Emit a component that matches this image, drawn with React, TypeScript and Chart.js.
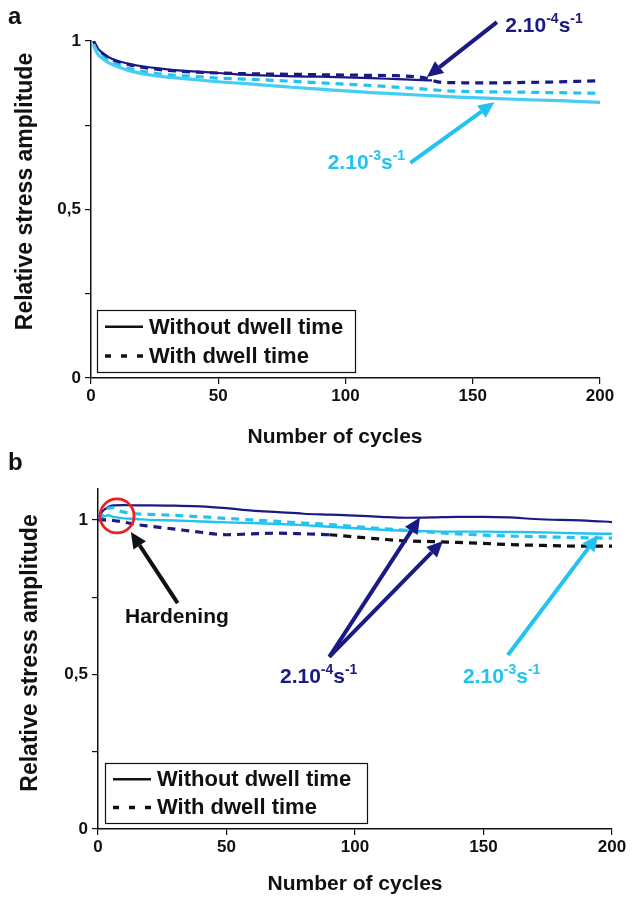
import React, { useEffect, useRef } from 'react';
import { Chart, registerables } from 'chart.js';

Chart.register(...registerables);

const FONT = '"Liberation Sans", Arial, Helvetica, sans-serif';
const NAVY = '#1a1a82';
const CYAN = '#22c3f1';
const CYAN_SOFT = '#45cdf4';
const BLACK = '#111111';
const RED = '#ec2024';

// ---------- Panel a ----------
const A_CYC_SLOW_NODWELL = [1, 2, 3, 5, 7, 10, 15, 20, 25, 30, 40, 50, 60, 70, 80, 90, 100, 110, 120, 130, 134];
const A_VAL_SLOW_NODWELL = [1.0, 0.985, 0.975, 0.962, 0.952, 0.942, 0.932, 0.925, 0.92, 0.916, 0.91, 0.905, 0.9, 0.897, 0.895, 0.894, 0.892, 0.89, 0.887, 0.884, 0.883];

const A_CYC_SLOW_DWELL = [1, 2, 3, 5, 7, 10, 15, 20, 25, 30, 40, 50, 60, 70, 80, 90, 100, 110, 120, 130, 138, 150, 160, 170, 180, 190, 200];
const A_VAL_SLOW_DWELL = [1.0, 0.985, 0.975, 0.96, 0.95, 0.94, 0.93, 0.922, 0.917, 0.913, 0.908, 0.905, 0.903, 0.902, 0.901, 0.9, 0.899, 0.898, 0.897, 0.892, 0.877, 0.876, 0.876, 0.877, 0.878, 0.88, 0.882];

const A_CYC_FAST_DWELL = [1, 2, 3, 5, 7, 10, 15, 20, 25, 30, 40, 50, 60, 70, 80, 90, 100, 110, 120, 130, 140, 150, 160, 170, 180, 190, 200];
const A_VAL_FAST_DWELL = [0.99, 0.975, 0.965, 0.95, 0.94, 0.93, 0.918, 0.91, 0.904, 0.9, 0.895, 0.89, 0.887, 0.884, 0.88, 0.876, 0.872, 0.868, 0.863, 0.858, 0.852, 0.85, 0.849, 0.848, 0.847, 0.846, 0.845];

const A_CYC_FAST_NODWELL = [1, 2, 3, 5, 7, 10, 15, 20, 25, 30, 40, 50, 60, 70, 80, 90, 100, 110, 120, 130, 140, 150, 160, 170, 180, 190, 200];
const A_VAL_FAST_NODWELL = [0.99, 0.97, 0.958, 0.945, 0.935, 0.925, 0.912, 0.903, 0.897, 0.893, 0.886, 0.879, 0.874, 0.868, 0.862, 0.857, 0.852, 0.847, 0.843, 0.839, 0.835, 0.832, 0.829, 0.826, 0.824, 0.821, 0.818];

// ---------- Panel b ----------
const B_CYC_SLOW_NODWELL = [0, 2, 4, 6, 10, 15, 20, 30, 40, 50, 60, 70, 80, 90, 100, 110, 120, 130, 140, 150, 160, 170, 180, 190, 200];
const B_VAL_SLOW_NODWELL = [1.005, 1.03, 1.042, 1.047, 1.048, 1.047, 1.047, 1.046, 1.044, 1.038, 1.03, 1.025, 1.02, 1.017, 1.014, 1.01, 1.007, 1.008, 1.01, 1.01, 1.008, 1.003, 1.0, 0.998, 0.993];

const B_CYC_FAST_NODWELL = [0, 2, 4, 6, 10, 15, 20, 30, 40, 50, 60, 70, 80, 90, 100, 110, 120, 130, 140, 150, 160, 170, 180, 190, 200];
const B_VAL_FAST_NODWELL = [1.0, 1.01, 1.015, 1.01, 1.005, 1.003, 1.0, 0.998, 0.995, 0.992, 0.99, 0.987, 0.983, 0.978, 0.973, 0.968, 0.965, 0.963, 0.962, 0.962, 0.961, 0.96, 0.958, 0.956, 0.955];

const B_CYC_FAST_DWELL = [0, 2, 4, 6, 8, 10, 15, 20, 30, 40, 50, 60, 70, 80, 90, 100, 110, 120, 130, 140, 150, 160, 170, 180, 190, 200];
const B_VAL_FAST_DWELL = [1.0, 1.02, 1.038, 1.04, 1.03, 1.025, 1.02, 1.018, 1.015, 1.01, 1.005, 1.0, 0.995, 0.99, 0.985, 0.978, 0.972, 0.966, 0.96, 0.955, 0.951, 0.948, 0.946, 0.944, 0.942, 0.941];

const B_CYC_SLOW_DWELL = [0, 3, 6, 10, 15, 20, 30, 40, 50, 60, 70, 80, 90, 100, 110, 120, 130, 140, 150, 160, 170, 180, 190, 200];
const B_VAL_SLOW_DWELL = [1.0, 1.0, 0.998, 0.993, 0.985, 0.98, 0.97, 0.96, 0.952, 0.955, 0.957, 0.955, 0.952, 0.945, 0.938, 0.932, 0.93, 0.927, 0.924, 0.92, 0.918, 0.916, 0.915, 0.915];
const B_BLACK_FROM_CYCLE = 90;

// ---------- axes ----------
const X_MIN = 0;
const X_MAX = 200;
const X_STEP = 50;
const Y_TICKS = [0, 0.25, 0.5, 0.75, 1];
const Y_LABELED: Record<string, string> = { '0': '0', '0.5': '0,5', '1': '1' };
const A_Y_MAX = 1;
const B_Y_MAX = 1.1;

const X_TITLE = 'Number of cycles';
const Y_TITLE = 'Relative stress amplitude';
const LEGEND_SOLID = 'Without dwell time';
const LEGEND_DASHED = 'With dwell time';

const zip = (xs: number[], ys: number[]) => xs.map((x, i) => ({ x, y: ys[i] }));

type Arrow = { from: [number, number]; to: [number, number]; color: string };
type Label = { at: [number, number]; exp: string; color: string };

type PanelCfg = {
  letter: string;
  yMax: number;
  padding: { top: number; right: number };
  yWidth: number;
  xHeight: number;
  yTitleX: number;
  yTitleShift: number;
  xTitleX: number;
  xTitleDy: number;
  legend: { dx: number; w: number; h: number; dyBottom: number };
  arrows: Arrow[];
  rates: Label[];
  circle?: { at: [number, number]; r: number };
  hardening?: { at: [number, number] };
};

function drawArrow(ctx: CanvasRenderingContext2D, x1: number, y1: number, x2: number, y2: number, color: string) {
  const ang = Math.atan2(y2 - y1, x2 - x1);
  const head = 16;
  const half = 7.5;
  const bx = x2 - head * Math.cos(ang);
  const by = y2 - head * Math.sin(ang);
  ctx.save();
  ctx.strokeStyle = color;
  ctx.fillStyle = color;
  ctx.lineWidth = 4;
  ctx.lineCap = 'butt';
  ctx.beginPath();
  ctx.moveTo(x1, y1);
  ctx.lineTo(bx, by);
  ctx.stroke();
  ctx.beginPath();
  ctx.moveTo(x2, y2);
  ctx.lineTo(bx + half * Math.sin(ang), by - half * Math.cos(ang));
  ctx.lineTo(bx - half * Math.sin(ang), by + half * Math.cos(ang));
  ctx.closePath();
  ctx.fill();
  ctx.restore();
}

function drawRate(ctx: CanvasRenderingContext2D, x: number, yMid: number, exp: string, color: string) {
  ctx.save();
  ctx.fillStyle = color;
  ctx.textAlign = 'left';
  ctx.textBaseline = 'alphabetic';
  const base = yMid + 7.5;
  const big = `bold 21px ${FONT}`;
  const small = `bold 14px ${FONT}`;
  let cx = x;
  ctx.font = big;
  ctx.fillText('2.10', cx, base);
  cx += ctx.measureText('2.10').width;
  ctx.font = small;
  ctx.fillText(exp, cx, base - 9);
  cx += ctx.measureText(exp).width;
  ctx.font = big;
  ctx.fillText('s', cx, base);
  cx += ctx.measureText('s').width;
  ctx.font = small;
  ctx.fillText('-1', cx, base - 9);
  ctx.restore();
}

function makeDecorPlugin(cfg: PanelCfg) {
  return {
    id: 'decor' + cfg.letter,
    afterDraw(chart: any) {
      const ctx: CanvasRenderingContext2D = chart.ctx;
      const xs = chart.scales.x;
      const ys = chart.scales.y;
      const area = chart.chartArea;
      const px = (v: number) => xs.getPixelForValue(v);
      const py = (v: number) => ys.getPixelForValue(v);

      ctx.save();
      // panel letter
      ctx.fillStyle = BLACK;
      ctx.font = `bold 24px ${FONT}`;
      ctx.textAlign = 'left';
      ctx.textBaseline = 'middle';
      ctx.fillText(cfg.letter, 8, cfg.letter === 'a' ? 17 : 13);

      // axis titles
      ctx.font = `bold 21px ${FONT}`;
      ctx.textAlign = 'center';
      ctx.textBaseline = 'middle';
      ctx.fillText(X_TITLE, cfg.xTitleX, area.bottom + cfg.xTitleDy);
      ctx.save();
      ctx.translate(cfg.yTitleX, (area.top + area.bottom) / 2 + cfg.yTitleShift);
      ctx.rotate(-Math.PI / 2);
      ctx.font = `bold 23px ${FONT}`;
      ctx.fillText(Y_TITLE, 0, 0);
      ctx.restore();

      // legend
      const lg = cfg.legend;
      const lx = area.left + lg.dx;
      const ly = area.bottom - lg.dyBottom - lg.h;
      ctx.strokeStyle = BLACK;
      ctx.lineWidth = 1.2;
      ctx.strokeRect(lx + 0.5, ly + 0.5, lg.w, lg.h);
      const r1 = ly + lg.h * 0.27;
      const r2 = ly + lg.h * 0.74;
      ctx.lineWidth = 2.5;
      ctx.beginPath();
      ctx.moveTo(lx + 8, r1);
      ctx.lineTo(lx + 46, r1);
      ctx.stroke();
      ctx.setLineDash([6, 10]);
      ctx.lineWidth = 3.5;
      ctx.beginPath();
      ctx.moveTo(lx + 8, r2);
      ctx.lineTo(lx + 46, r2);
      ctx.stroke();
      ctx.setLineDash([]);
      ctx.font = `bold 22px ${FONT}`;
      ctx.textAlign = 'left';
      ctx.fillStyle = BLACK;
      ctx.fillText(LEGEND_SOLID, lx + 52, r1 + 1);
      ctx.fillText(LEGEND_DASHED, lx + 52, r2 + 1);

      // circle
      if (cfg.circle) {
        ctx.strokeStyle = RED;
        ctx.lineWidth = 2.8;
        ctx.beginPath();
        ctx.arc(px(cfg.circle.at[0]), py(cfg.circle.at[1]), cfg.circle.r, 0, Math.PI * 2);
        ctx.stroke();
      }
      if (cfg.hardening) {
        ctx.fillStyle = BLACK;
        ctx.font = `bold 21px ${FONT}`;
        ctx.textAlign = 'center';
        ctx.textBaseline = 'middle';
        ctx.fillText('Hardening', px(cfg.hardening.at[0]), py(cfg.hardening.at[1]));
      }
      for (const a of cfg.arrows) {
        drawArrow(ctx, px(a.from[0]), py(a.from[1]), px(a.to[0]), py(a.to[1]), a.color);
      }
      for (const r of cfg.rates) {
        drawRate(ctx, px(r.at[0]), py(r.at[1]), r.exp, r.color);
      }
      ctx.restore();
    },
  };
}

function buildOptions(cfg: PanelCfg): any {
  const tickFont = { family: FONT, size: 17, weight: 'bold' as const };
  return {
    responsive: false,
    animation: false,
    events: [],
    layout: { padding: { left: 0, right: cfg.padding.right, top: cfg.padding.top, bottom: 0 } },
    plugins: { legend: { display: false }, tooltip: { enabled: false }, title: { display: false } },
    elements: { point: { radius: 0 } },
    scales: {
      x: {
        type: 'linear',
        min: X_MIN,
        max: X_MAX,
        ticks: { stepSize: X_STEP, font: tickFont, color: BLACK, padding: 2, maxRotation: 0 },
        grid: { display: true, drawOnChartArea: false, drawTicks: true, tickLength: 6, color: BLACK, lineWidth: 1.2 },
        border: { display: true, color: BLACK, width: 1.5 },
        afterFit: (s: any) => {
          s.height = cfg.xHeight;
        },
      },
      y: {
        type: 'linear',
        min: 0,
        max: cfg.yMax,
        afterBuildTicks: (s: any) => {
          s.ticks = Y_TICKS.map((v) => ({ value: v }));
        },
        ticks: {
          font: tickFont,
          color: BLACK,
          padding: 4,
          callback: (v: number) => Y_LABELED[String(v)] ?? '',
        },
        grid: { display: true, drawOnChartArea: false, drawTicks: true, tickLength: 6, color: BLACK, lineWidth: 1.2 },
        border: { display: true, color: BLACK, width: 1.5 },
        afterFit: (s: any) => {
          s.width = cfg.yWidth;
        },
      },
    },
  };
}

const lineDs = (data: any[], color: string, dashed: boolean, width: number, extra: any = {}) => ({
  data,
  borderColor: color,
  borderWidth: width,
  borderDash: dashed ? [8, 6] : [],
  cubicInterpolationMode: 'monotone',
  pointRadius: 0,
  fill: false,
  ...extra,
});

const PANEL_A: PanelCfg = {
  letter: 'a',
  yMax: A_Y_MAX,
  padding: { top: 41, right: 37 },
  yWidth: 91,
  xHeight: 72,
  yTitleX: 26,
  yTitleShift: -18,
  xTitleX: 335,
  xTitleDy: 59,
  legend: { dx: 6, w: 258, h: 62, dyBottom: 6 },
  arrows: [
    { from: [159.5, 1.056], to: [132, 0.893], color: NAVY },
    { from: [125.5, 0.638], to: [158.5, 0.818], color: CYAN },
  ],
  rates: [
    { at: [162.8, 1.05], exp: '-4', color: NAVY },
    { at: [93, 0.641], exp: '-3', color: CYAN },
  ],
};

const PANEL_B: PanelCfg = {
  letter: 'b',
  yMax: B_Y_MAX,
  padding: { top: 39, right: 25 },
  yWidth: 98,
  xHeight: 74,
  yTitleX: 31,
  yTitleShift: -6,
  xTitleX: 355,
  xTitleDy: 55,
  legend: { dx: 7, w: 262, h: 60, dyBottom: 6 },
  arrows: [
    { from: [31, 0.731], to: [12.8, 0.961], color: BLACK },
    { from: [90, 0.557], to: [125.3, 1.008], color: NAVY },
    { from: [90, 0.557], to: [134.2, 0.932], color: NAVY },
    { from: [159.5, 0.563], to: [194.6, 0.951], color: CYAN },
  ],
  rates: [
    { at: [70.8, 0.498], exp: '-4', color: NAVY },
    { at: [142, 0.498], exp: '-3', color: CYAN },
  ],
  circle: { at: [7.4, 1.013], r: 17 },
  hardening: { at: [30.7, 0.686] },
};

function Panel({ cfg, datasets, height }: { cfg: PanelCfg; datasets: any[]; height: number }) {
  const ref = useRef<HTMLCanvasElement | null>(null);
  useEffect(() => {
    if (!ref.current) return;
    const chart = new Chart(ref.current, {
      type: 'line',
      data: { datasets },
      options: buildOptions(cfg),
      plugins: [makeDecorPlugin(cfg)],
    } as any);
    return () => chart.destroy();
  }, []);
  return <canvas ref={ref} width={637} height={height} style={{ display: 'block', width: 637, height }} />;
}

export default function App() {
  const dsA = [
    lineDs(zip(A_CYC_FAST_NODWELL, A_VAL_FAST_NODWELL), CYAN_SOFT, false, 3.2),
    lineDs(zip(A_CYC_FAST_DWELL, A_VAL_FAST_DWELL), CYAN, true, 3.2),
    lineDs(zip(A_CYC_SLOW_DWELL, A_VAL_SLOW_DWELL), NAVY, true, 3.2),
    lineDs(zip(A_CYC_SLOW_NODWELL, A_VAL_SLOW_NODWELL), NAVY, false, 2.2),
  ];
  const dsB = [
    lineDs(zip(B_CYC_SLOW_DWELL, B_VAL_SLOW_DWELL), NAVY, true, 3.2, {
      segment: { borderColor: (c: any) => (c.p0.parsed.x >= B_BLACK_FROM_CYCLE ? BLACK : NAVY) },
    }),
    lineDs(zip(B_CYC_FAST_DWELL, B_VAL_FAST_DWELL), CYAN, true, 3.2),
    lineDs(zip(B_CYC_FAST_NODWELL, B_VAL_FAST_NODWELL), CYAN, false, 2.4),
    lineDs(zip(B_CYC_SLOW_NODWELL, B_VAL_SLOW_NODWELL), NAVY, false, 2.2),
  ];
  return (
    <div style={{ position: 'absolute', left: 0, top: 0, width: 637, height: 903, background: '#fff' }}>
      <Panel cfg={PANEL_A} datasets={dsA} height={450} />
      <Panel cfg={PANEL_B} datasets={dsB} height={453} />
    </div>
  );
}
